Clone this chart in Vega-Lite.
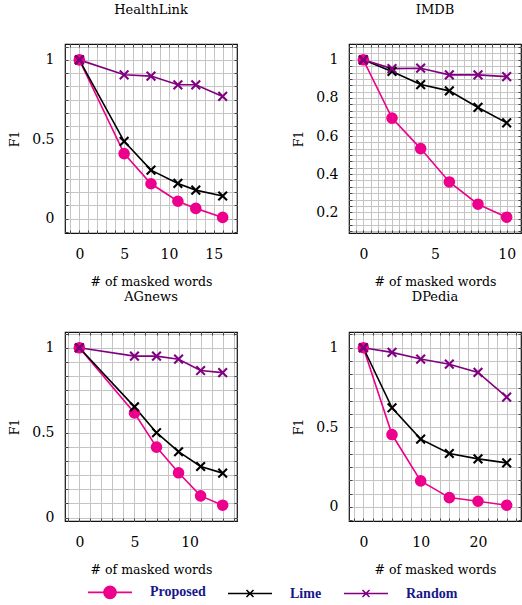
{
  "$schema": "https://vega.github.io/schema/vega-lite/v6.json",
  "padding": {"left": 7, "top": 3, "right": 5, "bottom": 5},
  "background": "white",
  "data": {"values": [
    {"panel": "HealthLink", "series": "Proposed", "x": 0, "y": 1},
    {"panel": "HealthLink", "series": "Proposed", "x": 5, "y": 0.41},
    {"panel": "HealthLink", "series": "Proposed", "x": 8, "y": 0.22},
    {"panel": "HealthLink", "series": "Proposed", "x": 11, "y": 0.11},
    {"panel": "HealthLink", "series": "Proposed", "x": 13, "y": 0.065},
    {"panel": "HealthLink", "series": "Proposed", "x": 16, "y": 0.008},
    {"panel": "HealthLink", "series": "Lime", "x": 0, "y": 1},
    {"panel": "HealthLink", "series": "Lime", "x": 5, "y": 0.487},
    {"panel": "HealthLink", "series": "Lime", "x": 8, "y": 0.306},
    {"panel": "HealthLink", "series": "Lime", "x": 11, "y": 0.222},
    {"panel": "HealthLink", "series": "Lime", "x": 13, "y": 0.18},
    {"panel": "HealthLink", "series": "Lime", "x": 16, "y": 0.143},
    {"panel": "HealthLink", "series": "Random", "x": 0, "y": 1},
    {"panel": "HealthLink", "series": "Random", "x": 5, "y": 0.906},
    {"panel": "HealthLink", "series": "Random", "x": 8, "y": 0.898},
    {"panel": "HealthLink", "series": "Random", "x": 11, "y": 0.843},
    {"panel": "HealthLink", "series": "Random", "x": 13, "y": 0.843},
    {"panel": "HealthLink", "series": "Random", "x": 16, "y": 0.77},
    {"panel": "IMDB", "series": "Proposed", "x": 0, "y": 1},
    {"panel": "IMDB", "series": "Proposed", "x": 2, "y": 0.694},
    {"panel": "IMDB", "series": "Proposed", "x": 4, "y": 0.534},
    {"panel": "IMDB", "series": "Proposed", "x": 6, "y": 0.359},
    {"panel": "IMDB", "series": "Proposed", "x": 8, "y": 0.242},
    {"panel": "IMDB", "series": "Proposed", "x": 10, "y": 0.174},
    {"panel": "IMDB", "series": "Lime", "x": 0, "y": 1},
    {"panel": "IMDB", "series": "Lime", "x": 2, "y": 0.939},
    {"panel": "IMDB", "series": "Lime", "x": 4, "y": 0.87},
    {"panel": "IMDB", "series": "Lime", "x": 6, "y": 0.837},
    {"panel": "IMDB", "series": "Lime", "x": 8, "y": 0.75},
    {"panel": "IMDB", "series": "Lime", "x": 10, "y": 0.669},
    {"panel": "IMDB", "series": "Random", "x": 0, "y": 1},
    {"panel": "IMDB", "series": "Random", "x": 2, "y": 0.954},
    {"panel": "IMDB", "series": "Random", "x": 4, "y": 0.956},
    {"panel": "IMDB", "series": "Random", "x": 6, "y": 0.921},
    {"panel": "IMDB", "series": "Random", "x": 8, "y": 0.921},
    {"panel": "IMDB", "series": "Random", "x": 10, "y": 0.912},
    {"panel": "AGnews", "series": "Proposed", "x": 0, "y": 1},
    {"panel": "AGnews", "series": "Proposed", "x": 5, "y": 0.616},
    {"panel": "AGnews", "series": "Proposed", "x": 7, "y": 0.415},
    {"panel": "AGnews", "series": "Proposed", "x": 9, "y": 0.264},
    {"panel": "AGnews", "series": "Proposed", "x": 11, "y": 0.128},
    {"panel": "AGnews", "series": "Proposed", "x": 13, "y": 0.073},
    {"panel": "AGnews", "series": "Lime", "x": 0, "y": 1},
    {"panel": "AGnews", "series": "Lime", "x": 5, "y": 0.652},
    {"panel": "AGnews", "series": "Lime", "x": 7, "y": 0.5},
    {"panel": "AGnews", "series": "Lime", "x": 9, "y": 0.388},
    {"panel": "AGnews", "series": "Lime", "x": 11, "y": 0.301},
    {"panel": "AGnews", "series": "Lime", "x": 13, "y": 0.262},
    {"panel": "AGnews", "series": "Random", "x": 0, "y": 1},
    {"panel": "AGnews", "series": "Random", "x": 5, "y": 0.951},
    {"panel": "AGnews", "series": "Random", "x": 7, "y": 0.951},
    {"panel": "AGnews", "series": "Random", "x": 9, "y": 0.933},
    {"panel": "AGnews", "series": "Random", "x": 11, "y": 0.866},
    {"panel": "AGnews", "series": "Random", "x": 13, "y": 0.854},
    {"panel": "DPedia", "series": "Proposed", "x": 0, "y": 1},
    {"panel": "DPedia", "series": "Proposed", "x": 5, "y": 0.455},
    {"panel": "DPedia", "series": "Proposed", "x": 10, "y": 0.164},
    {"panel": "DPedia", "series": "Proposed", "x": 15, "y": 0.059},
    {"panel": "DPedia", "series": "Proposed", "x": 20, "y": 0.036},
    {"panel": "DPedia", "series": "Proposed", "x": 25, "y": 0.011},
    {"panel": "DPedia", "series": "Lime", "x": 0, "y": 1},
    {"panel": "DPedia", "series": "Lime", "x": 5, "y": 0.623},
    {"panel": "DPedia", "series": "Lime", "x": 10, "y": 0.426},
    {"panel": "DPedia", "series": "Lime", "x": 15, "y": 0.336},
    {"panel": "DPedia", "series": "Lime", "x": 20, "y": 0.302},
    {"panel": "DPedia", "series": "Lime", "x": 25, "y": 0.277},
    {"panel": "DPedia", "series": "Random", "x": 0, "y": 1},
    {"panel": "DPedia", "series": "Random", "x": 5, "y": 0.971},
    {"panel": "DPedia", "series": "Random", "x": 10, "y": 0.929},
    {"panel": "DPedia", "series": "Random", "x": 15, "y": 0.897},
    {"panel": "DPedia", "series": "Random", "x": 20, "y": 0.845},
    {"panel": "DPedia", "series": "Random", "x": 25, "y": 0.69}
  ]},
  "columns": 2,
  "spacing": {"row": 99, "column": 112},
  "bounds": "flush",
  "concat": [
    {
      "title": "HealthLink",
      "width": 172, "height": 189,
      "transform": [{"filter": "datum.panel === 'HealthLink'"}],
      "resolve": {"axis": {"x": "independent", "y": "independent"}},
      "layer": [
        {
          "mark": {"type": "line", "strokeWidth": 1.6},
          "encoding": {
            "x": {"field": "x", "type": "quantitative", "scale": {"domain": [-1.6, 17.6], "nice": false, "zero": false},
              "axis": {"orient": "bottom", "title": "# of masked words", "values": [-1,0,1,2,3,4,5,6,7,8,9,10,11,12,13,14,15,16,17], "labelExpr": "abs(datum.value/5-round(datum.value/5))<0.001 ? format(datum.value,'d') : ''"}},
            "y": {"field": "y", "type": "quantitative", "scale": {"domain": [-0.09, 1.1], "nice": false, "zero": false},
              "axis": {"orient": "left", "title": "F1", "values": [-0.0833,0,0.0833,0.1667,0.25,0.3333,0.4167,0.5,0.5833,0.6667,0.75,0.8333,0.9167,1,1.0833], "labelExpr": "abs(datum.value*2-round(datum.value*2))<0.001 ? format(round(datum.value*2)/2,'~g') : ''"}},
            "color": {"field": "series", "type": "nominal", "scale": {"domain": ["Proposed", "Lime", "Random"], "range": ["#EC008C", "#000000", "#800080"]},
              "legend": {"orient": "none", "legendX": 22, "legendY": 537, "direction": "horizontal", "title": null, "symbolSize": 400, "labelOffset": 41, "columnPadding": 18,
                "encode": {"symbols": {"update": {
                  "shape": {"signal": "datum.value === 'Proposed' ? 'M-1,0L3.4,0M0.6,0A0.6,0.6,0,1,1,1.8,0A0.6,0.6,0,1,1,0.6,0Z' : 'M-1,0L3.4,0M0.85,-0.35L1.55,0.35M0.85,0.35L1.55,-0.35'"},
                  "fill": {"signal": "datum.value === 'Proposed' ? '#EC008C' : 'transparent'"},
                  "stroke": {"signal": "datum.value === 'Proposed' ? '#EC008C' : datum.value === 'Lime' ? '#000000' : '#800080'"},
                  "strokeWidth": {"value": 1.6},
                  "opacity": {"value": 1}
                }}}}},
            "order": {"field": "x"}
          }
        },
        {
          "transform": [{"filter": "datum.series === 'Proposed'"}],
          "mark": {"type": "point", "shape": "circle", "filled": true, "size": 135, "opacity": 1},
          "encoding": {
            "x": {"field": "x", "type": "quantitative", "scale": {"domain": [-1.6, 17.6], "nice": false, "zero": false},
              "axis": {"orient": "top", "title": null, "labels": false, "grid": false, "minExtent": 0, "maxExtent": 0, "values": [-1,0,1,2,3,4,5,6,7,8,9,10,11,12,13,14,15,16,17]}},
            "y": {"field": "y", "type": "quantitative", "scale": {"domain": [-0.09, 1.1], "nice": false, "zero": false},
              "axis": {"orient": "right", "title": null, "labels": false, "grid": false, "minExtent": 0, "maxExtent": 0, "values": [-0.0833,0,0.0833,0.1667,0.25,0.3333,0.4167,0.5,0.5833,0.6667,0.75,0.8333,0.9167,1,1.0833]}},
            "color": {"field": "series", "type": "nominal", "legend": null}
          }
        },
        {
          "transform": [{"filter": "datum.series !== 'Proposed'"}],
          "mark": {"type": "point", "shape": "M-1,-1L1,1M-1,1L1,-1", "filled": false, "size": 75, "strokeWidth": 2.1, "opacity": 1},
          "encoding": {
            "x": {"field": "x", "type": "quantitative", "scale": {"domain": [-1.6, 17.6], "nice": false, "zero": false}, "axis": null},
            "y": {"field": "y", "type": "quantitative", "scale": {"domain": [-0.09, 1.1], "nice": false, "zero": false}, "axis": null},
            "color": {"field": "series", "type": "nominal", "legend": null}
          }
        }
      ]
    },
    {
      "title": "IMDB",
      "width": 172, "height": 189,
      "transform": [{"filter": "datum.panel === 'IMDB'"}],
      "resolve": {"axis": {"x": "independent", "y": "independent"}},
      "layer": [
        {
          "mark": {"type": "line", "strokeWidth": 1.6},
          "encoding": {
            "x": {"field": "x", "type": "quantitative", "scale": {"domain": [-1, 11], "nice": false, "zero": false},
              "axis": {"orient": "bottom", "title": "# of masked words", "values": [-0.5,0,0.5,1,1.5,2,2.5,3,3.5,4,4.5,5,5.5,6,6.5,7,7.5,8,8.5,9,9.5,10,10.5], "labelExpr": "abs(datum.value/5-round(datum.value/5))<0.001 ? format(datum.value,'d') : ''"}},
            "y": {"field": "y", "type": "quantitative", "scale": {"domain": [0.091, 1.083], "nice": false, "zero": false},
              "axis": {"orient": "left", "title": "F1", "values": [0.1,0.1333,0.1667,0.2,0.2333,0.2667,0.3,0.3333,0.3667,0.4,0.4333,0.4667,0.5,0.5333,0.5667,0.6,0.6333,0.6667,0.7,0.7333,0.7667,0.8,0.8333,0.8667,0.9,0.9333,0.9667,1,1.0333,1.0667], "labelExpr": "abs(datum.value*5-round(datum.value*5))<0.001 ? format(round(datum.value*5)/5,'~g') : ''"}},
            "color": {"field": "series", "type": "nominal", "legend": null},
            "order": {"field": "x"}
          }
        },
        {
          "transform": [{"filter": "datum.series === 'Proposed'"}],
          "mark": {"type": "point", "shape": "circle", "filled": true, "size": 135, "opacity": 1},
          "encoding": {
            "x": {"field": "x", "type": "quantitative", "scale": {"domain": [-1, 11], "nice": false, "zero": false},
              "axis": {"orient": "top", "title": null, "labels": false, "grid": false, "minExtent": 0, "maxExtent": 0, "values": [-0.5,0,0.5,1,1.5,2,2.5,3,3.5,4,4.5,5,5.5,6,6.5,7,7.5,8,8.5,9,9.5,10,10.5]}},
            "y": {"field": "y", "type": "quantitative", "scale": {"domain": [0.091, 1.083], "nice": false, "zero": false},
              "axis": {"orient": "right", "title": null, "labels": false, "grid": false, "minExtent": 0, "maxExtent": 0, "values": [0.1,0.1333,0.1667,0.2,0.2333,0.2667,0.3,0.3333,0.3667,0.4,0.4333,0.4667,0.5,0.5333,0.5667,0.6,0.6333,0.6667,0.7,0.7333,0.7667,0.8,0.8333,0.8667,0.9,0.9333,0.9667,1,1.0333,1.0667]}},
            "color": {"field": "series", "type": "nominal", "legend": null}
          }
        },
        {
          "transform": [{"filter": "datum.series !== 'Proposed'"}],
          "mark": {"type": "point", "shape": "M-1,-1L1,1M-1,1L1,-1", "filled": false, "size": 75, "strokeWidth": 2.1, "opacity": 1},
          "encoding": {
            "x": {"field": "x", "type": "quantitative", "scale": {"domain": [-1, 11], "nice": false, "zero": false}, "axis": null},
            "y": {"field": "y", "type": "quantitative", "scale": {"domain": [0.091, 1.083], "nice": false, "zero": false}, "axis": null},
            "color": {"field": "series", "type": "nominal", "legend": null}
          }
        }
      ]
    },
    {
      "title": "AGnews",
      "width": 172, "height": 189,
      "transform": [{"filter": "datum.panel === 'AGnews'"}],
      "resolve": {"axis": {"x": "independent", "y": "independent"}},
      "layer": [
        {
          "mark": {"type": "line", "strokeWidth": 1.6},
          "encoding": {
            "x": {"field": "x", "type": "quantitative", "scale": {"domain": [-1.3, 14.3], "nice": false, "zero": false},
              "axis": {"orient": "bottom", "title": "# of masked words", "values": [-1,0,1,2,3,4,5,6,7,8,9,10,11,12,13,14], "labelExpr": "abs(datum.value/5-round(datum.value/5))<0.001 ? format(datum.value,'d') : ''"}},
            "y": {"field": "y", "type": "quantitative", "scale": {"domain": [-0.02, 1.093], "nice": false, "zero": false},
              "axis": {"orient": "left", "title": "F1", "values": [0,0.0833,0.1667,0.25,0.3333,0.4167,0.5,0.5833,0.6667,0.75,0.8333,0.9167,1,1.0833], "labelExpr": "abs(datum.value*2-round(datum.value*2))<0.001 ? format(round(datum.value*2)/2,'~g') : ''"}},
            "color": {"field": "series", "type": "nominal", "legend": null},
            "order": {"field": "x"}
          }
        },
        {
          "transform": [{"filter": "datum.series === 'Proposed'"}],
          "mark": {"type": "point", "shape": "circle", "filled": true, "size": 135, "opacity": 1},
          "encoding": {
            "x": {"field": "x", "type": "quantitative", "scale": {"domain": [-1.3, 14.3], "nice": false, "zero": false},
              "axis": {"orient": "top", "title": null, "labels": false, "grid": false, "minExtent": 0, "maxExtent": 0, "values": [-1,0,1,2,3,4,5,6,7,8,9,10,11,12,13,14]}},
            "y": {"field": "y", "type": "quantitative", "scale": {"domain": [-0.02, 1.093], "nice": false, "zero": false},
              "axis": {"orient": "right", "title": null, "labels": false, "grid": false, "minExtent": 0, "maxExtent": 0, "values": [0,0.0833,0.1667,0.25,0.3333,0.4167,0.5,0.5833,0.6667,0.75,0.8333,0.9167,1,1.0833]}},
            "color": {"field": "series", "type": "nominal", "legend": null}
          }
        },
        {
          "transform": [{"filter": "datum.series !== 'Proposed'"}],
          "mark": {"type": "point", "shape": "M-1,-1L1,1M-1,1L1,-1", "filled": false, "size": 75, "strokeWidth": 2.1, "opacity": 1},
          "encoding": {
            "x": {"field": "x", "type": "quantitative", "scale": {"domain": [-1.3, 14.3], "nice": false, "zero": false}, "axis": null},
            "y": {"field": "y", "type": "quantitative", "scale": {"domain": [-0.02, 1.093], "nice": false, "zero": false}, "axis": null},
            "color": {"field": "series", "type": "nominal", "legend": null}
          }
        }
      ]
    },
    {
      "title": "DPedia",
      "width": 172, "height": 189,
      "transform": [{"filter": "datum.panel === 'DPedia'"}],
      "resolve": {"axis": {"x": "independent", "y": "independent"}},
      "layer": [
        {
          "mark": {"type": "line", "strokeWidth": 1.6},
          "encoding": {
            "x": {"field": "x", "type": "quantitative", "scale": {"domain": [-2.5, 27.5], "nice": false, "zero": false},
              "axis": {"orient": "bottom", "title": "# of masked words", "values": [-1.6667,0,1.6667,3.3333,5,6.6667,8.3333,10,11.6667,13.3333,15,16.6667,18.3333,20,21.6667,23.3333,25,26.6667], "labelExpr": "abs(datum.value/10-round(datum.value/10))<0.001 ? format(datum.value,'d') : ''"}},
            "y": {"field": "y", "type": "quantitative", "scale": {"domain": [-0.088, 1.099], "nice": false, "zero": false},
              "axis": {"orient": "left", "title": "F1", "values": [-0.0833,0,0.0833,0.1667,0.25,0.3333,0.4167,0.5,0.5833,0.6667,0.75,0.8333,0.9167,1,1.0833], "labelExpr": "abs(datum.value*2-round(datum.value*2))<0.001 ? format(round(datum.value*2)/2,'~g') : ''"}},
            "color": {"field": "series", "type": "nominal", "legend": null},
            "order": {"field": "x"}
          }
        },
        {
          "transform": [{"filter": "datum.series === 'Proposed'"}],
          "mark": {"type": "point", "shape": "circle", "filled": true, "size": 135, "opacity": 1},
          "encoding": {
            "x": {"field": "x", "type": "quantitative", "scale": {"domain": [-2.5, 27.5], "nice": false, "zero": false},
              "axis": {"orient": "top", "title": null, "labels": false, "grid": false, "minExtent": 0, "maxExtent": 0, "values": [-1.6667,0,1.6667,3.3333,5,6.6667,8.3333,10,11.6667,13.3333,15,16.6667,18.3333,20,21.6667,23.3333,25,26.6667]}},
            "y": {"field": "y", "type": "quantitative", "scale": {"domain": [-0.088, 1.099], "nice": false, "zero": false},
              "axis": {"orient": "right", "title": null, "labels": false, "grid": false, "minExtent": 0, "maxExtent": 0, "values": [-0.0833,0,0.0833,0.1667,0.25,0.3333,0.4167,0.5,0.5833,0.6667,0.75,0.8333,0.9167,1,1.0833]}},
            "color": {"field": "series", "type": "nominal", "legend": null}
          }
        },
        {
          "transform": [{"filter": "datum.series !== 'Proposed'"}],
          "mark": {"type": "point", "shape": "M-1,-1L1,1M-1,1L1,-1", "filled": false, "size": 75, "strokeWidth": 2.1, "opacity": 1},
          "encoding": {
            "x": {"field": "x", "type": "quantitative", "scale": {"domain": [-2.5, 27.5], "nice": false, "zero": false}, "axis": null},
            "y": {"field": "y", "type": "quantitative", "scale": {"domain": [-0.088, 1.099], "nice": false, "zero": false}, "axis": null},
            "color": {"field": "series", "type": "nominal", "legend": null}
          }
        }
      ]
    }
  ],
  "config": {
    "view": {"stroke": "#111111", "strokeWidth": 1.2},
    "font": "DejaVu Serif",
    "title": {"font": "DejaVu Serif", "fontSize": 13, "fontWeight": "normal", "color": "#000000", "offset": 23, "frame": "group", "anchor": "middle"},
    "axis": {
      "domain": false,
      "grid": true, "gridColor": "#c4c4c4", "gridWidth": 1,
      "ticks": true, "tickSize": -3, "tickColor": "#444444", "tickWidth": 1,
      "labelFont": "DejaVu Serif", "labelFontSize": 14, "labelColor": "#000000", "labelPadding": 14,
      "labelOverlap": false, "labelFlush": false,
      "titleFont": "DejaVu Serif", "titleFontSize": 12.5, "titleFontWeight": "normal", "titleColor": "#000000"
    },
    "axisX": {"minExtent": 25, "maxExtent": 25, "titlePadding": 17, "labelPadding": 17},
    "axisY": {"minExtent": 34, "maxExtent": 34, "titlePadding": 10},
    "legend": {"labelFont": "Liberation Serif", "labelFontWeight": "bold", "labelFontSize": 14, "labelColor": "#16168a"}
  }
}
